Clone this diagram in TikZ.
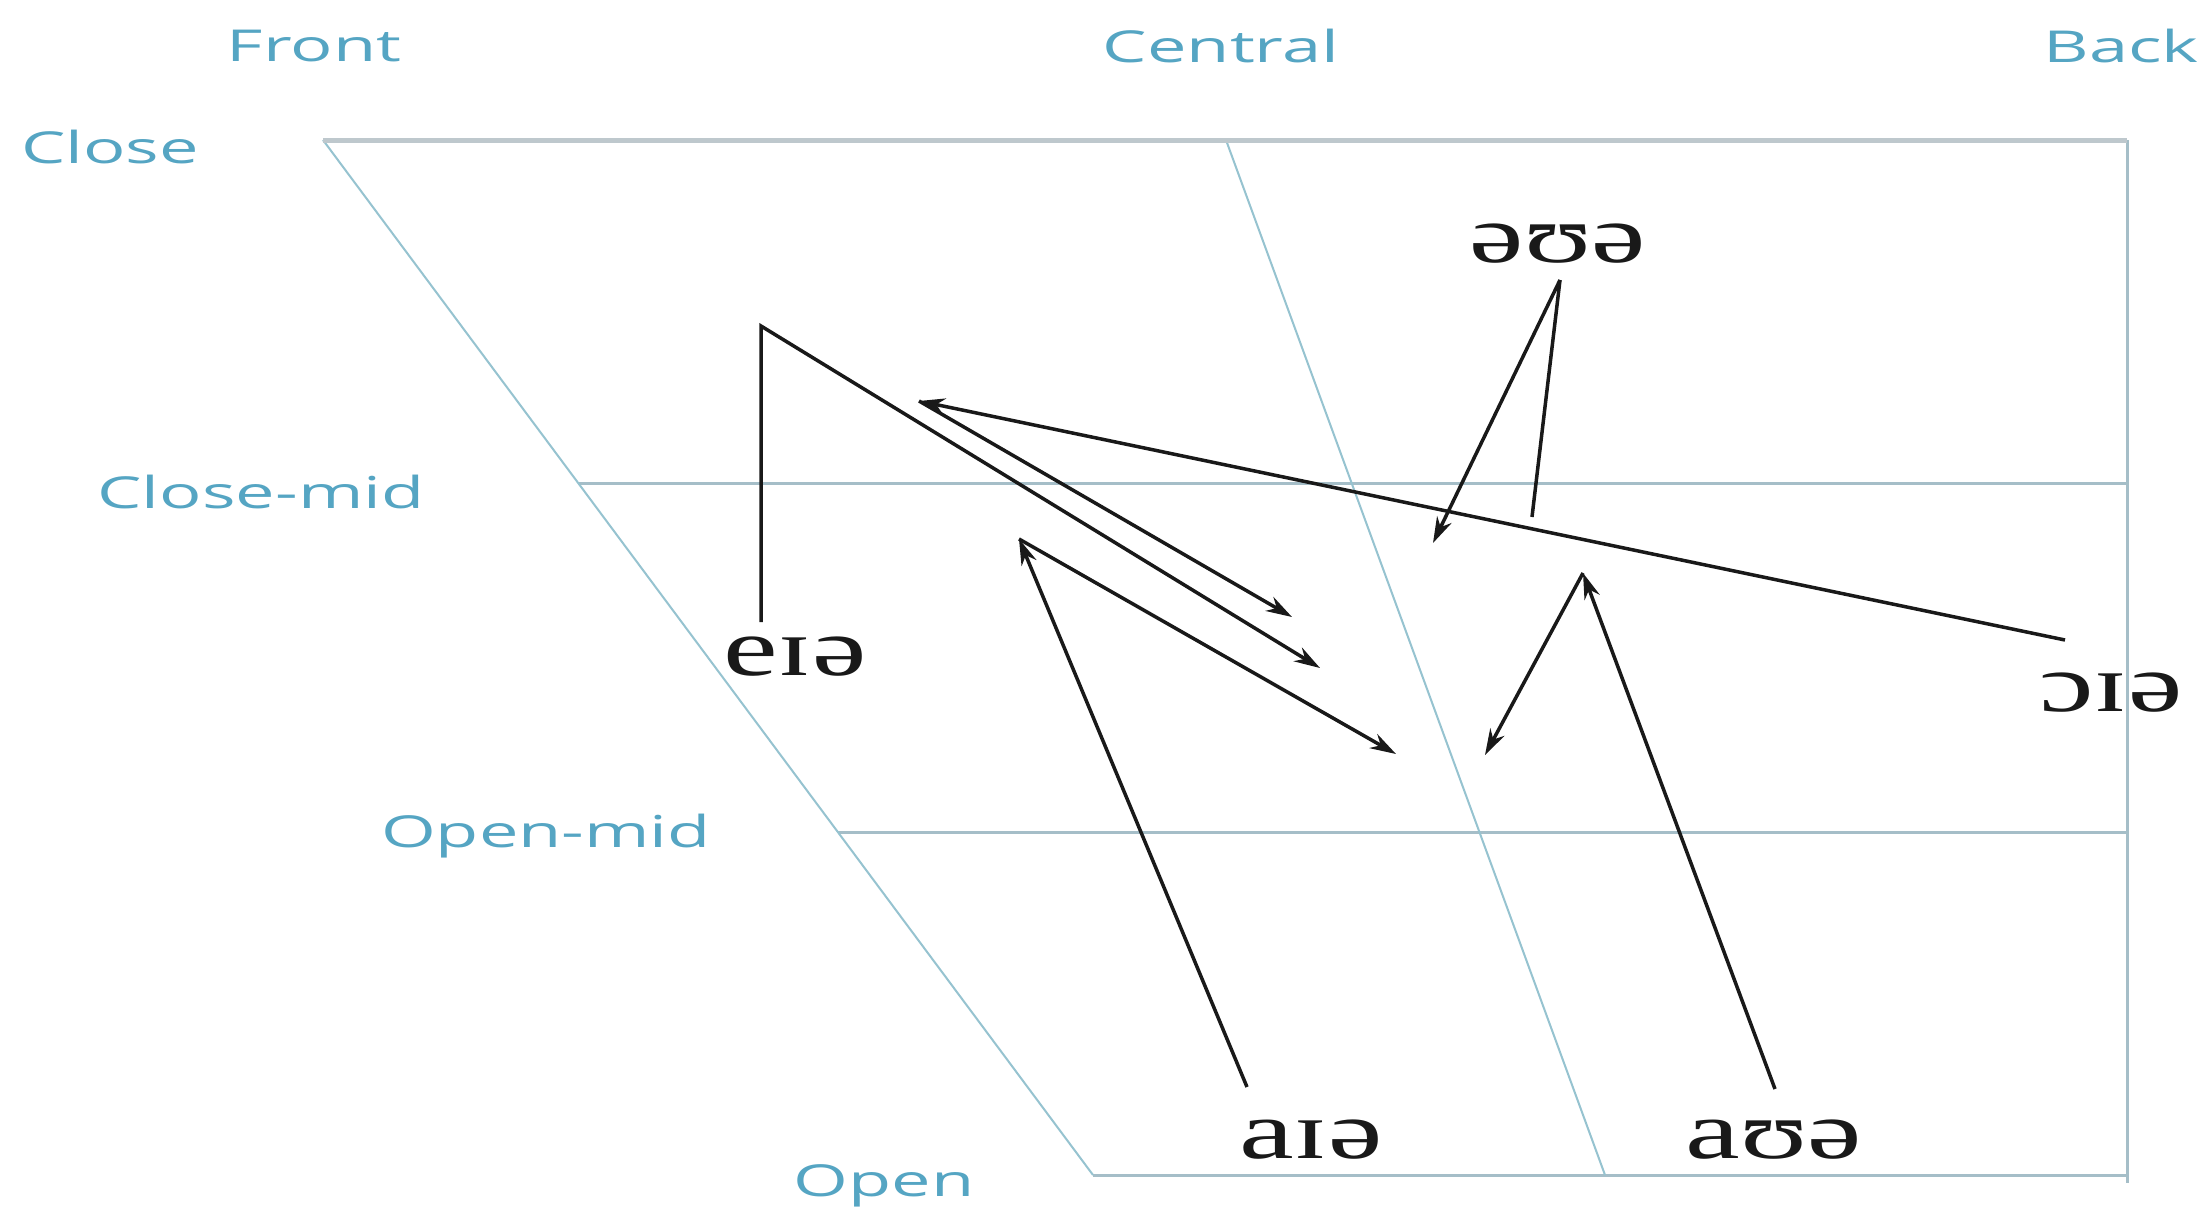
\documentclass[tikz,border=0pt]{standalone}
\usepackage{fontspec}
\usepackage{graphicx}
\setmainfont{Liberation Serif}
\newfontfamily\labelfont{Open Sans}
\usetikzlibrary{arrows.meta}
\definecolor{lbl}{RGB}{85,165,195}
\definecolor{gridc}{RGB}{165,190,200}
\definecolor{topc}{RGB}{190,200,205}
\definecolor{diagc}{RGB}{150,195,208}
\definecolor{ink}{RGB}{25,25,25}
\newcommand{\hstretch}[1]{\scalebox{1.5}[1]{#1}}
\newcommand{\lstretch}[1]{\scalebox{1.6}[1]{#1}}
\begin{document}
\begin{tikzpicture}[x=0.5pt,y=-0.5pt,
  axislabel/.style={inner sep=0pt, text=lbl, font=\labelfont\fontsize{22}{26}\selectfont},
  ipa/.style={inner sep=0pt, text=ink, font=\fontsize{41}{48}\selectfont},
  gridline/.style={draw=gridc, line width=1.5pt},
  topline/.style={draw=topc, line width=2.5pt},
  diagline/.style={draw=diagc, line width=1pt},
  glide/.style={draw=ink, line width=1.75pt, line join=miter},
  glidearrow/.style={glide, -{Stealth[length=13pt,width=8pt]}}]

\useasboundingbox (0,0) rectangle (2197,1216);
\fill[white] (0,0) rectangle (2197,1216);

% chart frame
\coordinate (TL) at (323,140);
\coordinate (TR) at (2127,140);
\coordinate (BL) at (1093,1175);
\coordinate (BR) at (2127,1175);
\coordinate (BRx) at (2127,1183);
\coordinate (CT) at (1226,140);
\coordinate (CB) at (1605,1175);
\coordinate (CML) at (578,483);
\coordinate (CMR) at (2127,483);
\coordinate (OML) at (838,832);
\coordinate (OMR) at (2127,832);

\draw[gridline] (TR) -- (BRx);
\draw[gridline] (BL) -- (BR);
\draw[gridline] (CML) -- (CMR);
\draw[gridline] (OML) -- (OMR);
\draw[diagline] (TL) -- (BL);
\draw[diagline] (CT) -- (CB);
\draw[topline] (TL) -- (TR);

% axis labels
\node[axislabel] (front) at (314,46) {\lstretch{Front}};
\node[axislabel] (central) at (1221,46) {\lstretch{Central}};
\node[axislabel, anchor=west] (back) at (2043,46) {\lstretch{Back}};
\node[axislabel] (close) at (110,147) {\lstretch{Close}};
\node[axislabel] (closemid) at (261,492) {\lstretch{Close-mid}};
\node[axislabel] (openmid) at (546,836) {\lstretch{Open-mid}};
\node[axislabel] (open) at (884,1186) {\lstretch{Open}};

% diphthong labels
\node[ipa] (eia) at (795,657) {\hstretch{eɪə}};
\node[ipa] (oua) at (1558,244) {\hstretch{əʊə}};
\node[ipa] (oia) at (2111,693) {\hstretch{ɔɪə}};
\node[ipa] (aia) at (1311,1140) {\hstretch{aɪə}};
\node[ipa] (aua) at (1774,1140) {\hstretch{aʊə}};

% glide points
\coordinate (e1) at (761,622);
\coordinate (e2) at (761,326);
\coordinate (e3) at (1320,668);
\coordinate (o1) at (2065,640);
\coordinate (o2) at (919,401);
\coordinate (o3) at (1292,617);
\coordinate (a1) at (1247,1087);
\coordinate (a2) at (1019,539);
\coordinate (a3) at (1396,754);
\coordinate (b1) at (1775,1089);
\coordinate (b2) at (1583,573);
\coordinate (b3) at (1485,755);
\coordinate (s1) at (1560,280);
\coordinate (s2) at (1532,517);
\coordinate (s3) at (1433,543);

\draw[glidearrow] (e1) -- (e2) -- (e3);
\draw[glidearrow] (o1) -- (o2);
\draw[glidearrow] (o2) -- (o3);
\draw[glidearrow] (a1) -- (a2);
\draw[glidearrow] (a2) -- (a3);
\draw[glidearrow] (b1) -- (b2);
\draw[glidearrow] (b2) -- (b3);
\draw[glide] (s1) -- (s2);
\draw[glidearrow] (s1) -- (s3);
\end{tikzpicture}
\end{document}
